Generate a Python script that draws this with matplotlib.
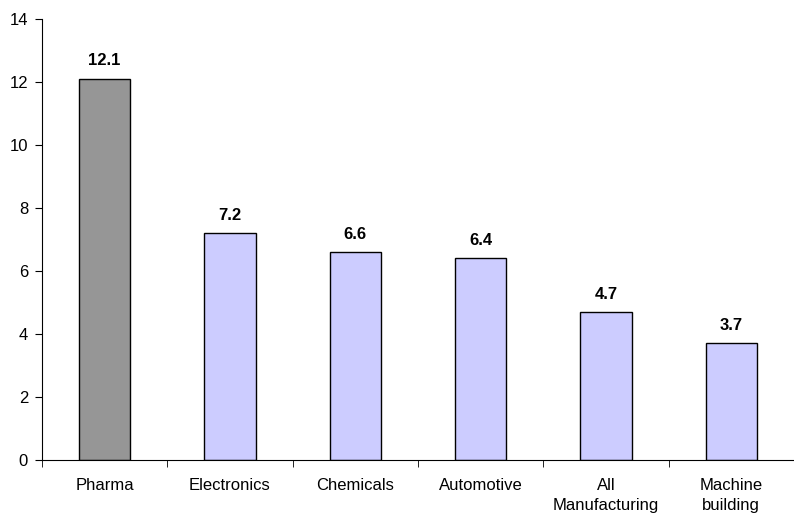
import matplotlib
matplotlib.use("Agg")
import matplotlib.pyplot as plt

categories = ["Pharma", "Electronics", "Chemicals", "Automotive", "All\nManufacturing", "Machine\nbuilding"]
values = [12.1, 7.2, 6.6, 6.4, 4.7, 3.7]
colors = ["#969696", "#CCCCFF", "#CCCCFF", "#CCCCFF", "#CCCCFF", "#CCCCFF"]

plt.rcParams['font.family'] = ['Liberation Sans', 'DejaVu Sans']

fig = plt.figure(figsize=(7.94, 5.13), dpi=100)
ax = fig.add_axes([42/794, 53/513, 1 - 42/794, (460-19)/513])

x = list(range(len(categories)))
ax.bar(x, values, width=0.41, color=colors, edgecolor="black", linewidth=1)
for xi, v in zip(x, values):
    ax.text(xi, v + 0.33, f"{v:.1f}", ha="center", va="bottom", fontsize=12, fontweight="bold")

ax.set_xlim(-0.5, 5.44)
ax.set_ylim(0, 14)
ax.set_yticks(range(0, 15, 2))
ax.set_xticks(x)
ax.set_xticklabels(categories, fontsize=12, linespacing=1.4)
ax.tick_params(axis="x", length=0, pad=13)
ax.set_xticks([i + 0.5 for i in range(-1, 6)], minor=True)
ax.tick_params(axis="x", which="minor", length=5, direction="out")
ax.tick_params(axis="y", length=5, direction="out", labelsize=12, pad=5)
ax.spines["top"].set_visible(False)
ax.spines["right"].set_visible(False)

fig.savefig("out.png", dpi=100)
